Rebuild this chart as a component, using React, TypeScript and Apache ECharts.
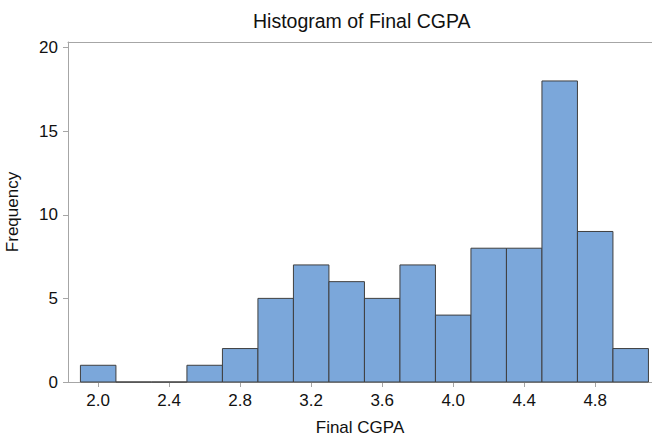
import React, { useEffect, useRef } from "react";
import * as echarts from "echarts";

const binCenters = [2.0, 2.2, 2.4, 2.6, 2.8, 3.0, 3.2, 3.4, 3.6, 3.8, 4.0, 4.2, 4.4, 4.6, 4.8, 5.0];
const frequencies = [1, 0, 0, 1, 2, 5, 7, 6, 5, 7, 4, 8, 8, 18, 9, 2];
const binWidth = 0.2;
const xTickValues = [2.0, 2.4, 2.8, 3.2, 3.6, 4.0, 4.4, 4.8];
const yTickValues = [0, 5, 10, 15, 20];

const FONT = "'Liberation Sans', Arial, sans-serif";
const AXIS_GRAY = "#a6a6a6";

export default function App() {
  const ref = useRef<HTMLDivElement>(null);
  useEffect(() => {
    if (!ref.current) return;
    const chart = echarts.init(ref.current, undefined, { renderer: "svg" });
    const data = binCenters.map((c, i) => [c - binWidth / 2, c + binWidth / 2, frequencies[i]]);
    chart.setOption({
      animation: false,
      backgroundColor: "#ffffff",
      textStyle: { fontFamily: FONT },
      title: {
        text: "Histogram of Final CGPA",
        left: 248,
        top: 6,
        textStyle: { fontFamily: FONT, fontSize: 19.5, fontWeight: "normal", color: "#111" },
      },
      grid: { left: 68, right: 0, top: 42, bottom: 57, containLabel: false, outerBoundsMode: "none" },
      xAxis: [
        {
          type: "value",
          min: 1.83,
          max: 5.12,
          name: "Final CGPA",
          nameLocation: "middle",
          nameGap: 37,
          nameTextStyle: { fontFamily: FONT, fontSize: 17, color: "#111" },
          axisLine: { show: true, lineStyle: { color: AXIS_GRAY, width: 1 } },
          axisTick: { show: true, length: 5, lineStyle: { color: AXIS_GRAY }, customValues: xTickValues },
          axisLabel: {
            fontFamily: FONT,
            fontSize: 17,
            color: "#111",
            margin: 10,
            customValues: xTickValues,
            formatter: (v: number) => v.toFixed(1),
          },
          splitLine: { show: false },
        },
        {
          type: "value",
          position: "top",
          min: 1.83,
          max: 5.12,
          axisLine: { show: true, lineStyle: { color: AXIS_GRAY, width: 1 } },
          axisTick: { show: false },
          axisLabel: { show: false },
          splitLine: { show: false },
        },
      ],
      yAxis: {
        type: "value",
        min: 0,
        max: 20.33,
        name: "Frequency",
        nameLocation: "middle",
        nameGap: 47,
        nameTextStyle: { fontFamily: FONT, fontSize: 17, color: "#111" },
        axisLine: { show: true, lineStyle: { color: AXIS_GRAY, width: 1 } },
        axisTick: { show: true, length: 5, lineStyle: { color: AXIS_GRAY }, customValues: yTickValues },
        axisLabel: { fontFamily: FONT, fontSize: 17, color: "#111", margin: 10, customValues: yTickValues },
        splitLine: { show: false },
      },
      series: [
        {
          type: "custom",
          xAxisIndex: 0,
          yAxisIndex: 0,
          data,
          encode: { x: [0, 1], y: 2 },
          renderItem: (params: any, api: any) => {
            const x0 = api.value(0);
            const x1 = api.value(1);
            const y = api.value(2);
            const p0 = api.coord([x0, y]);
            const p1 = api.coord([x1, 0]);
            return {
              type: "rect",
              shape: { x: p0[0], y: p0[1], width: p1[0] - p0[0], height: p1[1] - p0[1] },
              style: { fill: "#7ba7da", stroke: "#3f3f3f", lineWidth: 1 },
            };
          },
        },
      ],
    });
    return () => chart.dispose();
  }, []);
  return <div ref={ref} style={{ position: "fixed", left: 0, top: 0, width: 652, height: 439 }} />;
}
